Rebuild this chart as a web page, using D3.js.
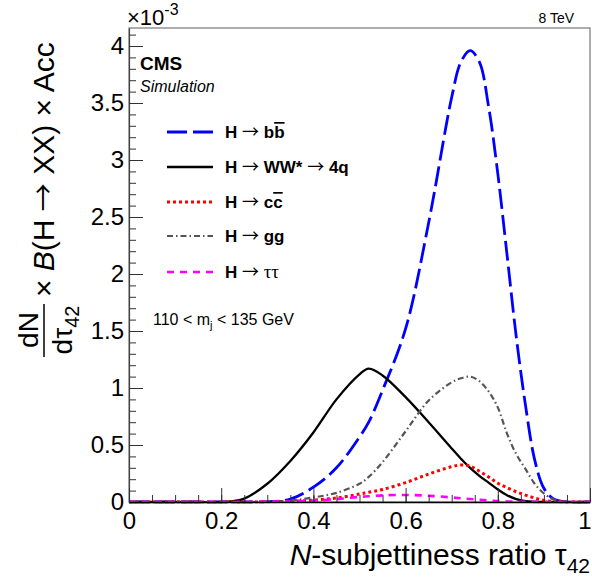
<!DOCTYPE html>
<html><head><meta charset="utf-8">
<script src="https://cdn.jsdelivr.net/npm/d3@7"></script>
<style>
body{margin:0;background:#fff}
svg{display:block}
text{font-family:"Liberation Sans",Arial,sans-serif;fill:#000}
</style>
</head><body>
<svg id="chart" width="592" height="583"></svg>
<script>
// ---- data (values in units of 10^-3) ----
const tau42 = [0, 0.05, 0.1, 0.15, 0.2, 0.22, 0.25, 0.3, 0.35, 0.4, 0.45, 0.5, 0.52, 0.55, 0.6, 0.65, 0.7, 0.72, 0.74, 0.76, 0.78, 0.8, 0.82, 0.84, 0.86, 0.88, 0.9, 0.92, 0.95, 1.0];
const hbb    = [0, 0, 0, 0, 0, 0, 0, 0.003, 0.025, 0.13, 0.30, 0.57, 0.70, 0.98, 1.52, 2.45, 3.55, 3.86, 3.96, 3.86, 3.47, 2.88, 2.17, 1.45, 0.85, 0.37, 0.12, 0.03, 0, 0];
const hww    = [0, 0, 0, 0, 0, 0.005, 0.03, 0.16, 0.36, 0.61, 0.90, 1.12, 1.17, 1.11, 0.92, 0.70, 0.47, 0.38, 0.30, 0.23, 0.17, 0.11, 0.06, 0.025, 0.008, 0.002, 0, 0, 0, 0];
const hcc    = [0, 0, 0, 0, 0, 0, 0, 0.002, 0.006, 0.016, 0.035, 0.07, 0.085, 0.11, 0.17, 0.245, 0.31, 0.325, 0.315, 0.27, 0.22, 0.165, 0.125, 0.09, 0.06, 0.035, 0.015, 0.005, 0, 0];
const hgg    = [0, 0, 0, 0, 0, 0, 0, 0.002, 0.012, 0.04, 0.08, 0.16, 0.22, 0.35, 0.62, 0.89, 1.05, 1.085, 1.10, 1.06, 0.97, 0.83, 0.60, 0.42, 0.29, 0.16, 0.075, 0.025, 0, 0];
const htautau= [0, 0, 0, 0, 0, 0, 0, 0.002, 0.005, 0.012, 0.025, 0.045, 0.05, 0.058, 0.062, 0.055, 0.04, 0.033, 0.026, 0.02, 0.013, 0.008, 0.005, 0.003, 0.002, 0.001, 0, 0, 0, 0];
const xTicks = [0, 0.2, 0.4, 0.6, 0.8, 1];
const xTickLabels = ["0", "0.2", "0.4", "0.6", "0.8", "1"];
const yTicks = [0, 0.5, 1, 1.5, 2, 2.5, 3, 3.5, 4];
const yTickLabels = ["0", "0.5", "1", "1.5", "2", "2.5", "3", "3.5", "4"];

const series = [
  {key:"bb",   values:hbb,     color:"#0000ff", width:2.8, dash:"20,6"},
  {key:"ww",   values:hww,     color:"#000000", width:2.3, dash:null},
  {key:"cc",   values:hcc,     color:"#ff0000", width:3,   dash:"3,3"},
  {key:"gg",   values:hgg,     color:"#555555", width:2.2, dash:"6,3,1.5,3"},
  {key:"tt",   values:htautau, color:"#ff00ff", width:2.6, dash:"7,6"}
];

const ARROW_FONT = "Noto Sans CJK JP, DejaVu Sans, sans-serif";
const svg = d3.select("#chart");
const L = 129, R = 590, T = 28, B = 502;
const x = d3.scaleLinear().domain([0, 1]).range([L, R]);
const y = d3.scaleLinear().domain([0, 4.158]).range([B, T]);

// frame
svg.append("rect").attr("x", L).attr("y", T).attr("width", R - L).attr("height", B - T)
  .attr("fill", "none").attr("stroke", "#777").attr("stroke-width", 1.2);

// curves
svg.append("clipPath").attr("id","clp").append("rect")
  .attr("x", L).attr("y", T).attr("width", R - L).attr("height", B - T + 1.5);
const line = d3.line().x((d,i)=>x(tau42[i])).y(d=>y(d)).curve(d3.curveCatmullRom.alpha(0.5));
const gCurves = svg.append("g").attr("clip-path","url(#clp)");
series.forEach(s => {
  gCurves.append("path").datum(s.values).attr("d", line)
    .attr("fill","none").attr("stroke", s.color).attr("stroke-width", s.width)
    .attr("stroke-dasharray", s.dash);
});

// axes
const yMinor = d3.range(0, 4.15, 0.1);
const xMinor = d3.range(0, 1.0001, 0.05);
svg.append("g").attr("transform", `translate(${L},0)`)
  .call(d3.axisLeft(y).tickValues(yMinor).tickSize(-7).tickFormat("").tickSizeOuter(0))
  .call(g => g.select(".domain").remove())
  .call(g => g.selectAll("line").attr("stroke","#333"));
svg.append("g").attr("transform", `translate(0,${B})`)
  .call(d3.axisBottom(x).tickValues(xMinor).tickSize(-7).tickFormat("").tickSizeOuter(0))
  .call(g => g.select(".domain").remove())
  .call(g => g.selectAll("line").attr("stroke","#333"));

const yAx = svg.append("g").attr("transform", `translate(${L},0)`)
  .call(d3.axisLeft(y).tickValues(yTicks).tickSize(-14).tickPadding(5).tickSizeOuter(0)
    .tickFormat((d,i)=>yTickLabels[i]));
yAx.select(".domain").attr("stroke","#444").attr("stroke-width",1.2);
yAx.selectAll("line").attr("stroke","#333");
yAx.selectAll("text").attr("font-size", 24).attr("font-family","Liberation Sans, Arial, sans-serif").attr("fill","#000");

const xAx = svg.append("g").attr("transform", `translate(0,${B})`)
  .call(d3.axisBottom(x).tickValues(xTicks).tickSize(-14).tickPadding(10).tickSizeOuter(0)
    .tickFormat((d,i)=>xTickLabels[i]));
xAx.select(".domain").attr("stroke","#000").attr("stroke-width",1.4);
xAx.selectAll("line").attr("stroke","#333");
xAx.selectAll("text").attr("font-size", 24).attr("font-family","Liberation Sans, Arial, sans-serif").attr("fill","#000");
// keep the last label inside the window
xAx.selectAll("text").filter(d => d === 1).attr("text-anchor","end").attr("x", 1);

// exponent
const ex = svg.append("text").attr("x", 127).attr("y", 25).attr("font-size", 22);
ex.append("tspan").text("×10");
ex.append("tspan").attr("font-size", 16).attr("dy", -10).text("-3");

// 8 TeV
svg.append("text").attr("x", 574).attr("y", 23).attr("text-anchor","end").attr("font-size", 14).text("8 TeV");

// CMS Simulation
svg.append("text").attr("x", 140).attr("y", 70).attr("font-size", 19).attr("font-weight","bold").text("CMS");
svg.append("text").attr("x", 140).attr("y", 92).attr("font-size", 16).attr("font-style","italic").text("Simulation");

// legend
const legendRows = [
  {s:0, y:132, parts:[["H ","b"],["→","a"],[" ","b"],["b","b"],["b","bo"]]},
  {s:1, y:167, parts:[["H ","b"],["→","a"],[" WW* ","b"],["→","a"],[" 4q","b"]]},
  {s:2, y:202, parts:[["H ","b"],["→","a"],[" ","b"],["c","b"],["c","bo"]]},
  {s:3, y:236, parts:[["H ","b"],["→","a"],[" gg","b"]]},
  {s:4, y:272, parts:[["H ","b"],["→","a"],[" ","b"],["ττ","serif"]]}
];
legendRows.forEach(r => {
  const s = series[r.s];
  svg.append("line").attr("x1",167).attr("x2",213).attr("y1",r.y).attr("y2",r.y)
    .attr("stroke", s.color).attr("stroke-width", s.width).attr("stroke-dasharray", s.dash);
  const t = svg.append("text").attr("x", 225).attr("y", r.y + 6).attr("font-size", 17);
  r.parts.forEach(p => {
    const ts = t.append("tspan").text(p[0]);
    if (p[1] === "b" || p[1] === "bo") ts.attr("font-weight","bold");
    if (p[1] === "bo") ts.style("text-decoration","overline");
    if (p[1] === "a") ts.attr("font-family", ARROW_FONT).attr("font-size", 17);
    if (p[1] === "serif") ts.attr("font-family","Liberation Serif, serif").attr("font-size", 19);
  });
});

// mass window
const mw = svg.append("text").attr("x", 153).attr("y", 325).attr("font-size", 16);
mw.append("tspan").text("110 < m");
mw.append("tspan").attr("font-size", 11).attr("dy", 4).text("j");
mw.append("tspan").attr("dy", -4).text(" < 135 GeV");

// x title
const xt = svg.append("text").attr("x", 590).attr("y", 565).attr("text-anchor","end").attr("font-size", 30);
xt.append("tspan").attr("font-style","italic").text("N");
xt.append("tspan").text("-subjettiness ratio τ");
xt.append("tspan").attr("font-size", 21).attr("dy", 8).text("42");

// y title
const yt = svg.append("g").attr("transform", "translate(54,297) rotate(-90)");
const ytt = yt.append("text").attr("x", 0).attr("y", 0).attr("font-size", 30);
ytt.append("tspan").text("× ");
ytt.append("tspan").attr("font-style","italic").text("B");
ytt.append("tspan").text("(H ");
ytt.append("tspan").attr("font-family", ARROW_FONT).attr("font-size", 28).text("→");
ytt.append("tspan").text(" XX) × Acc");
// fraction
const fc = -33;
yt.append("text").attr("x", fc).attr("y", -16).attr("text-anchor","middle").attr("font-size", 28).text("dN");
yt.append("line").attr("x1", -60).attr("x2", -7).attr("y1", -10).attr("y2", -10).attr("stroke","#000").attr("stroke-width",1.5);
const den = yt.append("text").attr("x", fc).attr("y", 18).attr("text-anchor","middle").attr("font-size", 28);
den.append("tspan").text("dτ");
den.append("tspan").attr("font-size", 20).attr("dy", 7).text("42");
</script>
</body></html>
